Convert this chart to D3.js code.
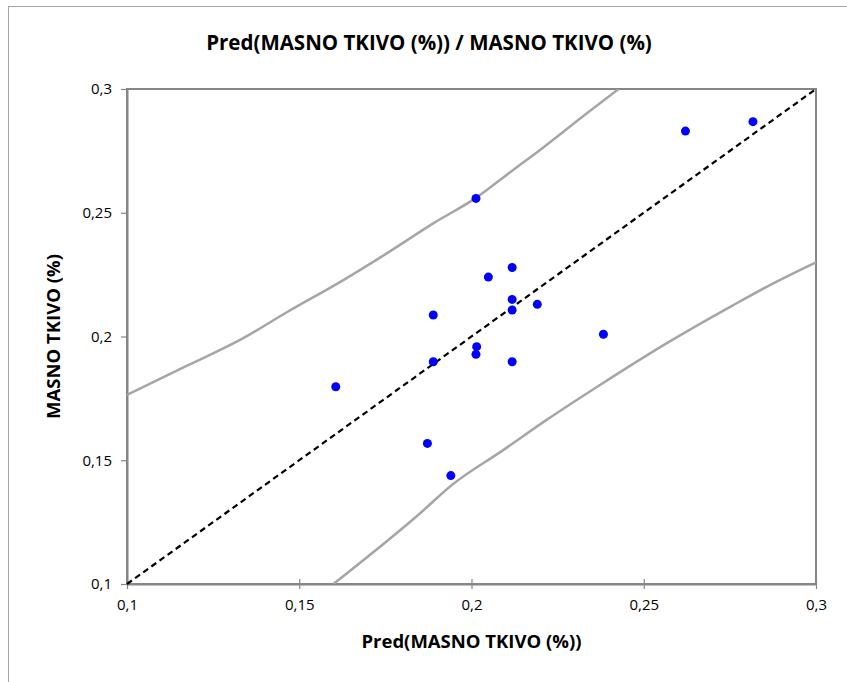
<!DOCTYPE html>
<html>
<head>
<meta charset="utf-8">
<script src="https://cdn.jsdelivr.net/npm/d3@7"></script>
<style>
  body { margin: 0; background: #fff; }
  svg { display: block; }
  text { font-family: "Open Sans", "Noto Sans", sans-serif; }
</style>
</head>
<body>
<svg id="chart" width="847" height="682"></svg>
<script>
// ---- data ----
const titleText = "Pred(MASNO TKIVO (%)) / MASNO TKIVO (%)";
const xTitle = "Pred(MASNO TKIVO (%))";
const yTitle = "MASNO TKIVO (%)";
const xTicks = [0.1, 0.15, 0.2, 0.25, 0.3];
const yTicks = [0.1, 0.15, 0.2, 0.25, 0.3];
const predX = [0.1606, 0.1872, 0.1889, 0.1889, 0.1940, 0.2013, 0.2013, 0.2015, 0.2049, 0.2118, 0.2118, 0.2118, 0.2118, 0.2191, 0.2383, 0.2621, 0.2817];
const obsY  = [0.1797, 0.1568, 0.2087, 0.1898, 0.1438, 0.2558, 0.1928, 0.1959, 0.2240, 0.2279, 0.2150, 0.2107, 0.1898, 0.2130, 0.2009, 0.2830, 0.2868];
const upperX = [0.1, 0.1173, 0.1328, 0.1464, 0.1628, 0.1754, 0.1889, 0.2013, 0.2121, 0.2199, 0.2335, 0.2427];
const upperY = [0.1764, 0.1881, 0.1986, 0.2098, 0.2228, 0.2336, 0.2457, 0.2560, 0.2673, 0.2754, 0.2902, 0.3];
const lowerX = [0.1599, 0.1851, 0.1943, 0.2092, 0.2218, 0.2373, 0.2567, 0.2760, 0.2876, 0.3];
const lowerY = [0.1, 0.1286, 0.1400, 0.1541, 0.1663, 0.1804, 0.1973, 0.2127, 0.2215, 0.2300];
const identity = [0.1, 0.3];

(function () {
const FONT = "'Open Sans', 'Noto Sans', sans-serif";
const svg = d3.select("#chart");
const pL = 127, pR = 816, pT = 89, pB = 584;
const x = d3.scaleLinear().domain([0.1, 0.3]).range([pL, pR]);
const y = d3.scaleLinear().domain([0.1, 0.3]).range([pB, pT]);
const fmt = d => String(+d.toFixed(3)).replace(".", ",");

// outer chart border
svg.append("rect").attr("x", 8.5).attr("y", 6.5).attr("width", 900).attr("height", 800)
  .attr("fill", "none").attr("stroke", "#A6A6A6").attr("stroke-width", 1);

// title
svg.append("text").attr("x", 429).attr("y", 50).attr("text-anchor", "middle")
  .attr("font-size", 20.5).attr("font-weight", "bold").attr("fill", "#000").text(titleText);

// plot frame
svg.append("rect").attr("x", pL).attr("y", pT).attr("width", pR - pL).attr("height", pB - pT)
  .attr("fill", "none").attr("stroke", "#868686").attr("stroke-width", 2);

// axes
const xAxis = svg.append("g").attr("transform", `translate(0,${pB})`)
  .call(d3.axisBottom(x).tickValues(xTicks).tickFormat(fmt).tickSize(6).tickSizeOuter(0).tickPadding(9));
const yAxis = svg.append("g").attr("transform", `translate(${pL},0)`)
  .call(d3.axisLeft(y).tickValues(yTicks).tickFormat(fmt).tickSize(6).tickSizeOuter(0).tickPadding(9));
[xAxis, yAxis].forEach(g => {
  g.select(".domain").attr("stroke", "#868686").attr("stroke-width", 2);
  g.selectAll(".tick line").attr("stroke", "#868686").attr("stroke-width", 1.2);
  g.selectAll(".tick text").attr("font-size", 15).attr("fill", "#000").style("font-family", FONT);
});
xAxis.selectAll(".tick line").attr("y1", -5).attr("y2", 5);
yAxis.selectAll(".tick line").attr("x1", -6).attr("x2", 0);

// axis titles
svg.append("text").attr("x", (pL + pR) / 2).attr("y", 648).attr("text-anchor", "middle")
  .attr("font-size", 18.5).attr("font-weight", "bold").text(xTitle);
svg.append("text").attr("transform", `translate(60,${(pT + pB) / 2}) rotate(-90)`)
  .attr("text-anchor", "middle").attr("font-size", 18.5).attr("font-weight", "bold").text(yTitle);

// bands
svg.append("clipPath").attr("id", "plotclip").append("rect")
  .attr("x", pL).attr("y", pT).attr("width", pR - pL).attr("height", pB - pT);
const line = d3.line().x(d => x(d[0])).y(d => y(d[1])).curve(d3.curveMonotoneX);
const plotG = svg.append("g").attr("clip-path", "url(#plotclip)");
plotG.append("path").datum(upperX.map((v, i) => [v, upperY[i]])).attr("d", line)
  .attr("fill", "none").attr("stroke", "#A6A6A6").attr("stroke-width", 2.5);
plotG.append("path").datum(lowerX.map((v, i) => [v, lowerY[i]])).attr("d", line)
  .attr("fill", "none").attr("stroke", "#A6A6A6").attr("stroke-width", 2.5);

// identity line
svg.append("path").datum(identity.map(v => [v, v])).attr("d", d3.line().x(d => x(d[0])).y(d => y(d[1])))
  .attr("fill", "none").attr("stroke", "#000").attr("stroke-width", 2.2).attr("stroke-dasharray", "6,4");

// points
svg.append("g").selectAll("circle").data(predX.map((v, i) => [v, obsY[i]])).join("circle")
  .attr("cx", d => x(d[0])).attr("cy", d => y(d[1])).attr("r", 4.5).attr("fill", "#0000FF");
})();
</script>
</body>
</html>
